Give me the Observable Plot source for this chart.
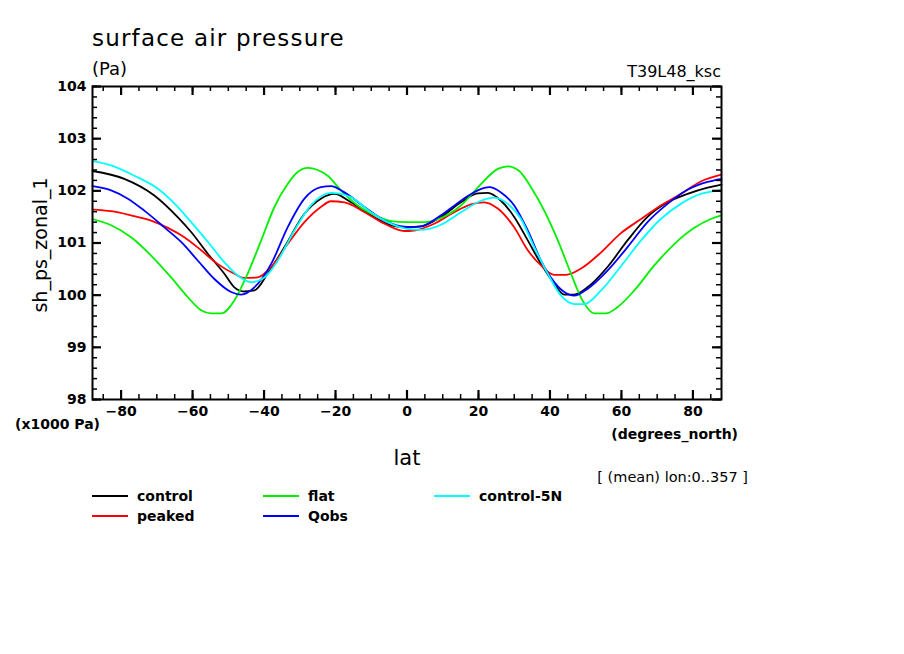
<!DOCTYPE html>
<html><head><meta charset="utf-8">
<script src="https://cdn.jsdelivr.net/npm/d3@7"></script>
<script src="https://cdn.jsdelivr.net/npm/@observablehq/plot@0.6"></script>
<style>body{margin:0;background:#fff} svg{display:block}</style>
</head><body><div id="chart"></div>
<script>
// ---- data ----
const latControl = [-88,-79.1,-70.7,-64.1,-60.4,-55.7,-51.1,-48.3,-45.5,-42.7,-39.0,-34.3,-28.7,-24.1,-20.3,-15.7,-10.1,-4.5,0,3.9,9.5,15.1,19.8,22.6,26.3,30.0,33.8,37.5,41.2,44.0,46.8,50.5,56.1,61.7,67.3,72.9,78.5,84.1,88];
const control    = [102.38,102.23,101.91,101.49,101.21,100.79,100.41,100.15,100.07,100.09,100.41,100.92,101.56,101.85,101.94,101.78,101.53,101.34,101.30,101.32,101.50,101.78,101.95,101.96,101.81,101.50,101.05,100.60,100.22,100.01,100.01,100.15,100.54,101.05,101.50,101.78,101.94,102.06,102.12];

const latPeaked = [-88,-82.8,-77.2,-71.6,-66.9,-62.3,-57.6,-53.0,-48.3,-45.5,-41.8,-38.0,-33.4,-28.7,-24.1,-21.3,-17.5,-11.9,-6.3,-0.8,2.0,7.6,13.2,17.9,21.6,25.4,30.0,33.8,37.5,41.2,44.5,48.7,54.3,59.7,65.5,71.0,76.6,82.2,88];
const peaked    = [101.64,101.61,101.53,101.43,101.29,101.11,100.86,100.60,100.41,100.33,100.34,100.54,100.98,101.40,101.69,101.80,101.78,101.59,101.37,101.23,101.24,101.37,101.59,101.74,101.78,101.66,101.30,100.86,100.57,100.39,100.39,100.51,100.82,101.18,101.46,101.72,101.94,102.18,102.31];

const latFlat = [-88,-82.8,-77.2,-71.6,-66.0,-61.3,-57.6,-54.8,-52.0,-48.3,-44.6,-40.8,-37.1,-33.4,-30.6,-27.8,-25.0,-22.2,-18.5,-13.8,-8.2,-4.5,0,4.8,9.5,15.1,20.7,25.4,28.2,31.4,34.7,38.4,42.2,45.9,49.1,52.4,55.7,58.9,63.6,69.2,74.8,80.4,85.0,88];
const flat    = [101.46,101.34,101.11,100.76,100.34,99.96,99.71,99.65,99.65,99.90,100.41,101.05,101.69,102.13,102.36,102.44,102.40,102.29,102.01,101.72,101.51,101.42,101.40,101.40,101.48,101.72,102.13,102.42,102.47,102.38,102.07,101.62,101.05,100.41,99.90,99.65,99.65,99.77,100.09,100.57,100.98,101.29,101.46,101.53];

const latQobs = [-88,-82.8,-78.1,-73.5,-67.9,-63.2,-58.5,-53.9,-49.2,-46.4,-42.7,-38.0,-33.4,-28.7,-24.1,-21.3,-17.5,-11.9,-6.3,0,3.9,9.5,15.1,19.8,23.0,26.3,30.0,33.8,37.5,41.2,44.0,46.8,50.5,56.1,61.7,67.3,72.9,78.5,84.1,88];
const qobs    = [102.09,102.01,101.85,101.62,101.30,101.02,100.66,100.31,100.06,100.01,100.15,100.60,101.30,101.85,102.07,102.09,101.97,101.69,101.43,101.31,101.32,101.53,101.81,102.01,102.07,101.97,101.72,101.24,100.66,100.25,100.06,99.99,100.12,100.47,100.92,101.40,101.75,102.02,102.17,102.23];

const latControl5N = [-88,-82.8,-76.3,-69.7,-64.1,-60.4,-55.7,-51.1,-47.4,-43.6,-39.9,-36.2,-31.5,-26.9,-21.3,-15.7,-10.1,-4.5,0,3.9,9.5,15.1,20.7,24.4,28.2,31.9,35.6,39.4,43.1,46.8,49.6,54.3,59.7,65.5,71.0,76.6,82.2,88];
const control5N    = [102.57,102.49,102.29,102.04,101.69,101.40,101.02,100.63,100.38,100.25,100.34,100.66,101.24,101.72,101.96,101.88,101.59,101.37,101.27,101.25,101.35,101.59,101.81,101.87,101.75,101.46,100.92,100.41,99.99,99.83,99.83,100.09,100.54,101.05,101.46,101.75,101.94,102.02];

const seriesNames  = ["control","peaked","flat","Qobs","control-5N"];
const seriesColors = ["#000000","#ff0000","#00f000","#0000ff","#00ffff"];

const xMajor = [-80,-60,-40,-20,0,20,40,60,80];
const yMajor = [98,99,100,101,102,103,104];
const xMinor = d3.range(-85, 86, 5);
const yMinor = d3.range(98, 104.001, 0.2);

// ---- build table ----
const rows = [];
function add(name, lats, vals) { lats.forEach((la, i) => rows.push({series: name, lat: la, value: vals[i]})); }
add("control", latControl, control);
add("peaked", latPeaked, peaked);
add("flat", latFlat, flat);
add("Qobs", latQobs, qobs);
add("control-5N", latControl5N, control5N);

const W = 904, H = 654, mL = 92, mR = 183, mT = 86, mB = 255;
const pw = W - mL - mR, ph = H - mT - mB;

const plot = Plot.plot({
  width: W, height: H,
  marginLeft: mL, marginRight: mR, marginTop: mT, marginBottom: mB,
  style: {fontFamily: "DejaVu Sans", fontSize: "14px", fontWeight: "bold", background: "#fff", color: "#000"},
  x: {domain: [-88, 88]},
  y: {domain: [98, 104]},
  color: {domain: seriesNames, range: seriesColors},
  marks: [
    Plot.line(rows, {x: "lat", y: "value", z: "series", stroke: "series", strokeWidth: 1.8, curve: "monotone-x"}),
    // inward ticks, left/right
    Plot.tickY(yMinor, {y: d => d, insetRight: pw - 5, strokeWidth: 1.5}),
    Plot.tickY(yMinor, {y: d => d, insetLeft: pw - 5, strokeWidth: 1.5}),
    Plot.tickY(yMajor, {y: d => d, insetRight: pw - 9, strokeWidth: 2.2}),
    Plot.tickY(yMajor, {y: d => d, insetLeft: pw - 9, strokeWidth: 2.2}),
    // inward ticks, bottom/top
    Plot.tickX(xMinor, {x: d => d, insetTop: ph - 5, strokeWidth: 1.5}),
    Plot.tickX(xMinor, {x: d => d, insetBottom: ph - 5, strokeWidth: 1.5}),
    Plot.tickX(xMajor, {x: d => d, insetTop: ph - 9, strokeWidth: 2.2}),
    Plot.tickX(xMajor, {x: d => d, insetBottom: ph - 9, strokeWidth: 2.2}),
    Plot.frame({stroke: "#000", strokeWidth: 2}),
    Plot.axisY({ticks: yMajor, tickSize: 0, tickPadding: 6, label: null, tickFormat: d => String(d)}),
    Plot.axisX({ticks: xMajor, tickSize: 0, tickPadding: 7, label: null, tickFormat: d => d < 0 ? "\u2212" + (-d) : String(d)})
  ]
});

const svg = d3.select(plot);
function txt(x, y, s, size, anchor = "start", weight = "normal", extra = {}) {
  const t = svg.append("text").attr("x", x).attr("y", y).text(s)
    .attr("font-size", size).attr("text-anchor", anchor).attr("font-weight", weight)
    .attr("font-family", "DejaVu Sans").attr("fill", "#000");
  for (const k in extra) t.attr(k, extra[k]);
  return t;
}
txt(92, 46, "surface air pressure", 23, "start", "normal", {"letter-spacing": 1.2});
txt(92, 75, "(Pa)", 18);
txt(721, 77, "T39L48_ksc", 16, "end");
txt(0, 0, "sh_ps_zonal_1", 19, "middle", "normal", {transform: "translate(47,245) rotate(-90)"});
txt(15, 429, "(x1000 Pa)", 14, "start", "bold");
txt(738, 439, "(degrees_north)", 14, "end", "bold");
txt(407, 465, "lat", 21, "middle");
txt(748, 482, "[ (mean) lon:0..357 ]", 14.5, "end");

// legend
const legendPos = [[92, 496], [92, 516], [263, 496], [263, 516], [434, 496]];
seriesNames.forEach((name, i) => {
  const [lx, ly] = legendPos[i];
  svg.append("line").attr("x1", lx).attr("x2", lx + 36).attr("y1", ly).attr("y2", ly)
    .attr("stroke", seriesColors[i]).attr("stroke-width", 2);
  txt(lx + 45, ly + 5, name, 14, "start", "bold");
});

document.getElementById("chart").appendChild(plot);
</script>
</body></html>
